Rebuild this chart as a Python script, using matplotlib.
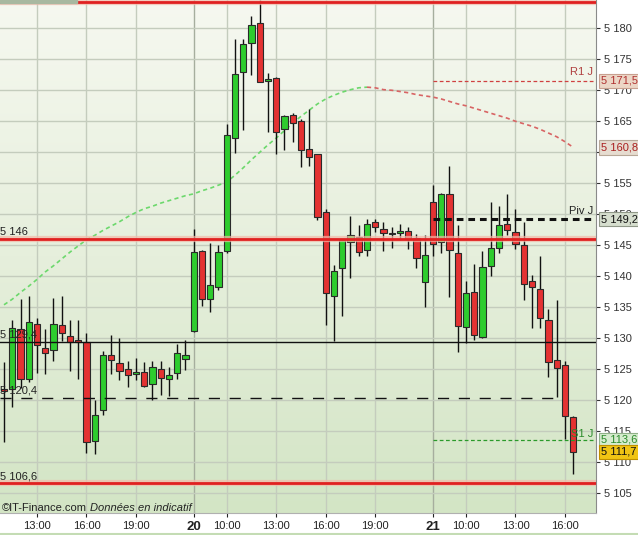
import numpy as np
import matplotlib.pyplot as plt
from matplotlib.colors import LinearSegmentedColormap
from matplotlib.patches import Rectangle
from matplotlib.lines import Line2D
import matplotlib.transforms as mtransforms

plt.rcParams['font.family'] = ['Liberation Sans', 'DejaVu Sans']

# --------------------------------------------------------------------------------------------
# DATA (30 min candles, CAC 40)
days = ['19', '20', '21']
dayFirst = ['11:00', '08:00', '08:00']
dayLast = ['22:00', '22:00', '16:30']

opens = [5121.6, 5121.9, 5131.5, 5123.5, 5132.3, 5128.5, 5128.1, 5132.1, 5130.3, 5129.5,
         5129.4, 5113.5, 5118.4, 5127.3, 5126.0, 5125.0, 5124.3, 5124.5, 5122.6, 5125.0,
         5123.4, 5124.4, 5126.7,
         5131.2, 5144.1, 5136.4, 5138.3, 5144.0, 5162.3, 5172.9, 5177.7, 5180.8, 5171.5,
         5171.9, 5163.7, 5166.0, 5165.0, 5160.5, 5159.7, 5150.4, 5136.8, 5141.3, 5145.5,
         5146.4, 5144.2, 5148.8, 5147.7, 5146.8, 5146.9, 5147.3, 5146.2, 5139.0,
         5151.9, 5145.5, 5153.2, 5143.7, 5131.8, 5137.4, 5130.2, 5141.7, 5144.6, 5148.4,
         5147.2, 5145.0, 5139.2, 5138.0, 5133.0, 5126.5, 5125.7, 5117.3]
highs = [5126.2, 5133.0, 5136.3, 5136.8, 5133.2, 5131.5, 5136.5, 5136.8, 5133.0, 5133.0,
         5130.9, 5120.0, 5127.9, 5130.6, 5130.0, 5126.4, 5126.8, 5126.1, 5126.4, 5126.4,
         5125.3, 5129.0, 5129.7,
         5147.7, 5144.3, 5145.4, 5145.0, 5164.6, 5178.3, 5178.3, 5182.0, 5184.5, 5172.8,
         5172.2, 5166.0, 5166.4, 5165.4, 5167.0, 5159.8, 5150.8, 5141.8, 5146.0, 5149.7,
         5148.3, 5149.2, 5149.2, 5148.8, 5147.9, 5148.4, 5147.9, 5146.8, 5146.7,
         5154.7, 5153.4, 5157.8, 5148.3, 5139.2, 5141.9, 5144.0, 5151.9, 5151.4, 5153.3,
         5150.9, 5148.8, 5140.2, 5143.3, 5134.8, 5136.1, 5126.4, 5117.4]
lows = [5113.3, 5118.9, 5122.0, 5123.0, 5124.4, 5124.2, 5126.3, 5129.5, 5124.8, 5123.4,
        5111.5, 5111.3, 5117.6, 5124.2, 5123.3, 5122.2, 5123.3, 5122.2, 5120.0, 5120.9,
        5120.7, 5123.4, 5124.9,
        5131.0, 5135.2, 5134.3, 5137.8, 5143.8, 5159.9, 5163.6, 5172.4, 5171.3, 5163.2,
        5159.7, 5160.3, 5161.7, 5157.7, 5157.8, 5149.1, 5132.2, 5129.6, 5133.6, 5139.7,
        5143.3, 5143.2, 5147.2, 5144.1, 5144.5, 5145.9, 5144.4, 5141.4, 5135.1,
        5143.2, 5143.7, 5136.7, 5127.8, 5129.2, 5129.7, 5130.1, 5140.1, 5143.7, 5146.7,
        5144.4, 5136.2, 5131.7, 5131.7, 5123.7, 5120.5, 5113.8, 5108.1]
closes = [5121.5, 5131.7, 5123.4, 5132.6, 5128.9, 5127.7, 5132.3, 5130.8, 5129.4, 5129.4,
          5113.2, 5117.7, 5127.3, 5126.5, 5124.8, 5124.0, 5124.3, 5122.3, 5125.3, 5123.6,
          5124.0, 5127.7, 5127.3,
          5143.9, 5136.4, 5138.6, 5143.9, 5162.8, 5172.7, 5177.4, 5180.5, 5171.3, 5171.8,
          5163.3, 5165.9, 5164.8, 5160.3, 5159.2, 5149.6, 5137.3, 5140.9, 5145.9, 5146.7,
          5143.9, 5148.4, 5147.9, 5146.9, 5146.8, 5147.3, 5146.0, 5142.9, 5143.4,
          5145.2, 5153.2, 5144.2, 5132.0, 5137.3, 5130.5, 5141.5, 5144.5, 5148.3, 5147.4,
          5145.2, 5138.7, 5138.2, 5133.3, 5126.2, 5125.2, 5117.4, 5111.7]

# moving average
ma = [5135.4, 5136.3, 5137.4, 5138.4, 5139.5, 5140.7, 5141.7, 5142.8, 5143.9, 5144.9,
      5145.9, 5146.6, 5147.4, 5148.1, 5148.8, 5149.6, 5150.3, 5150.9, 5151.3, 5151.8,
      5152.2, 5152.6, 5153.0,
      5153.3, 5153.8, 5154.2, 5154.7, 5155.2, 5156.3, 5157.5, 5158.8, 5160.0, 5161.2,
      5162.3, 5163.5, 5164.7, 5165.8, 5166.8, 5167.8, 5168.6, 5169.2, 5169.7, 5170.1,
      5170.4, 5170.5, 5170.4, 5170.1, 5170.0, 5169.8, 5169.6, 5169.3, 5169.1,
      5168.9, 5168.6, 5168.2, 5167.8, 5167.5, 5167.1, 5166.7, 5166.3, 5165.9, 5165.5,
      5165.0, 5164.6, 5164.2, 5163.7, 5163.1, 5162.5, 5161.7, 5160.8]

redLevels = [5184.3, 5146.0, 5106.6]
supportSolid = 5129.4
supportDashed = 5120.4
pivot = 5149.2
r1 = 5171.5
s1 = 5113.6

# --------------------------------------------------------------------------------------------
# FUNCTIONS
def halfHours(start, end):
    """Returns the list of half hour labels between start and end (included)."""
    h0, m0 = map(int, start.split(':'))
    h1, m1 = map(int, end.split(':'))
    return ['%02d:%02d' % divmod(t, 60) for t in range(h0 * 60 + m0, h1 * 60 + m1 + 1, 30)]


def fmtPrice(v):
    """French style price label: 5 146 or 5 120,4"""
    txt = '%.1f' % v
    ent, dec = txt.split('.')
    ent = ent[:-3] + ' ' + ent[-3:]
    if dec == '0':
        return ent
    return ent + ',' + dec


# --------------------------------------------------------------------------------------------
# MAIN PROGRAM
times = []
dayOf = []
for d, a, b in zip(days, dayFirst, dayLast):
    hh = halfHours(a, b)
    times += hh
    dayOf += [d] * len(hh)
x = np.arange(len(times))

tickPos = []
tickLab = []
for i, t in enumerate(times):
    if t == '08:00':
        tickPos.append(i)
        tickLab.append(dayOf[i])
    elif t in ('10:00', '13:00', '16:00', '19:00'):
        tickPos.append(i)
        tickLab.append(t)

W, H = 638, 535
fig = plt.figure(figsize=(W / 100, H / 100), dpi=100, facecolor='white')
ax = fig.add_axes([0, 22 / H, 596 / W, 513 / H])
x0, x1 = -0.485, 71.76
y0, y1 = 5101.82, 5184.56
ax.set_xlim(x0, x1)
ax.set_ylim(y0, y1)

# background gradient
cmap = LinearSegmentedColormap.from_list('bg', ['#f6f8f0', '#e6efdc', '#d3e5c5'])
grad = np.linspace(0, 1, 256).reshape(-1, 1)
ax.imshow(grad, extent=[x0, x1, y0, y1], aspect='auto', cmap=cmap, zorder=0)
ax.set_facecolor('none')

# grid
for p, lab in zip(tickPos, tickLab):
    col = '#a6ae9e' if lab in days else '#c4ccbd'
    ax.axvline(p, color=col, lw=1, zorder=1)
for v in range(5105, 5185, 5):
    ax.axhline(v, color='#c4ccbd', lw=1, zorder=1)

# moving average, green while rising then red
peak = int(np.argmax(ma))
ax.plot(x[:peak + 1], ma[:peak + 1], color='#6cd86c', lw=1.2, dashes=(2.5, 2), zorder=1.8)
ax.plot(x[peak:], ma[peak:], color='#d86464', lw=1.2, dashes=(2.5, 2), zorder=1.8)

# candles
o = np.array(opens)
c = np.array(closes)
cols = np.where(c >= o, '#2ecc2e', '#e43232')
ax.vlines(x, lows, highs, color='#111111', lw=1, zorder=2)
bodyLow = np.minimum(o, c)
bodyH = np.maximum(np.abs(c - o), 0.25)
ax.bar(x, bodyH, bottom=bodyLow, width=0.74, color=cols, edgecolor='#2a2a2a', linewidth=0.8, zorder=3)

# horizontal levels
for v in redLevels:
    ax.axhline(v, color='#f2b8a8', lw=4.5, alpha=0.7, zorder=4)
    ax.axhline(v, color='#e02020', lw=2, zorder=4.1)
ax.axhline(supportSolid, color='#111111', lw=1, zorder=4)
ax.plot([x0, 66.7], [supportDashed] * 2, color='#111111', lw=1, dashes=(8, 7), zorder=4)
dayStart = tickPos[tickLab.index(days[-1])]
ax.plot([dayStart, x1], [pivot] * 2, color='#111111', lw=2.2, dashes=(2.2, 1.6), zorder=4)
ax.plot([dayStart, x1], [r1] * 2, color='#d04040', lw=0.9, dashes=(3, 2), zorder=4)
ax.plot([dayStart, x1], [s1] * 2, color='#2a9a2a', lw=0.9, dashes=(3, 2), zorder=4)

# left level labels
for v in [redLevels[1], supportSolid, supportDashed, redLevels[2]]:
    ax.text(x0 + 0.05, v + 0.35, fmtPrice(v), fontsize=8, color='#222222', ha='left', va='bottom', zorder=5)

xr = x1 - 0.35
ax.text(xr, r1 + 0.6, 'R1 J', fontsize=8, color='#b04040', ha='right', va='bottom', zorder=5)
ax.text(xr, pivot + 0.6, 'Piv J', fontsize=8, color='#222222', ha='right', va='bottom', zorder=5)
ax.text(xr, s1 + 0.2, 'S1 J', fontsize=8, color='#2a8a2a', ha='right', va='bottom', zorder=5)

# axes
for s in ['top', 'left']:
    ax.spines[s].set_visible(False)
ax.spines['right'].set_color('#8a8a8a')
ax.spines['bottom'].set_color('#b0b0b0')
ax.yaxis.tick_right()
ax.set_yticks(range(5105, 5185, 5))
ax.set_yticklabels([fmtPrice(v) for v in range(5105, 5185, 5)])
ax.tick_params(axis='y', length=3, pad=3, labelsize=8, colors='#333333', width=0.8)
ax.set_xticks(tickPos)
ax.set_xticklabels(tickLab)
ax.tick_params(axis='x', length=3, pad=3, labelsize=8, colors='#222222', width=0.8)
for lab in ax.get_xticklabels():
    if lab.get_text() in days:
        lab.set_fontweight('bold')
        lab.set_fontsize(9.5)

# price boxes on the right axis
trans = mtransforms.blended_transform_factory(ax.transAxes, ax.transData)
boxes = [(r1, '#ecd6c6', '#b03030', '#c8a090'),
         (ma[-1], '#e6dcd0', '#aa2020', '#b8a898'),
         (pivot, '#d6dece', '#111111', '#909888'),
         (s1, '#d6ecce', '#2a8a2a', '#90b088'),
         (closes[-1], '#f0c414', '#111111', '#c09000')]
for v, fc, tc, ec in boxes:
    ax.text(601 / 596, v, fmtPrice(v), transform=trans, fontsize=8, color=tc, ha='left', va='center',
            clip_on=False, zorder=6,
            bbox=dict(boxstyle='square,pad=0.2', fc=fc, ec=ec, lw=0.8))

# copyright
fig.text(2 / W, 1 - 508 / H, '©IT-Finance.com', fontsize=8, color='#222222', va='center')
fig.text(90 / W, 1 - 508 / H, 'Données en indicatif', fontsize=8, color='#222222', va='center', style='italic')

fig.add_artist(Rectangle((0, 1 - 3 / H), 77 / W, 3 / H, transform=fig.transFigure, color='#a8b8a0'))
fig.add_artist(Line2D([0, 1], [1.5 / H, 1.5 / H], transform=fig.transFigure, color='#c4dcb4', lw=1.5))

fig.savefig('out.png', dpi=100, facecolor='white')
